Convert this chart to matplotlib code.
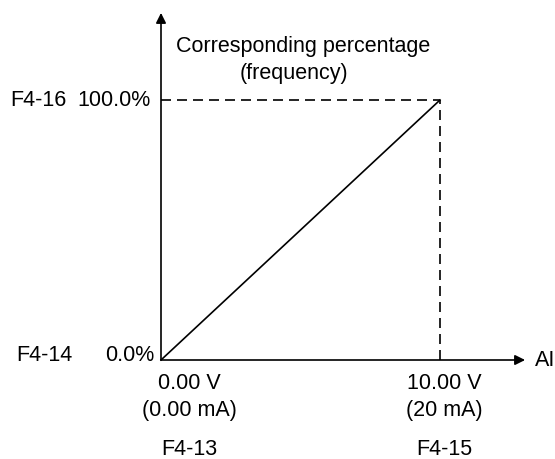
import matplotlib.pyplot as plt

# input range (V) and output percentage
x_vals = [0.0, 10.0]
y_vals = [0.0, 100.0]

x_top_labels = ['0.00 V', '10.00 V']
x_mid_labels = ['(0.00 mA)', '(20 mA)']
x_code_labels = ['F4-13', 'F4-15']
y_pct_labels = ['0.0%', '100.0%']
y_code_labels = ['F4-14', 'F4-16']

plt.rcParams['font.family'] = ['Liberation Sans', 'DejaVu Sans']

fig = plt.figure(figsize=(5.55, 4.59), dpi=100)
# axes box spans the data rectangle 0..10 V, 0..100 %
ax = fig.add_axes([161 / 555, 99 / 459, 279 / 555, 260 / 459])
ax.set_xlim(0, 10)
ax.set_ylim(0, 100)
ax.axis('off')

fs = 15.5
lw = 1.2
dash = (0, (6, 3.6))

# axes with arrows
arrow = dict(arrowstyle='-|>', color='black', lw=lw, mutation_scale=15, shrinkA=0, shrinkB=0)
ax.annotate('', xy=(0, 133.5), xytext=(0, 0), arrowprops=arrow, annotation_clip=False)
ax.annotate('', xy=(13.05, 0), xytext=(0, 0), arrowprops=arrow, annotation_clip=False)

# characteristic line
ax.plot(x_vals, y_vals, color='black', lw=lw, clip_on=False)

# dashed guides
ax.plot([x_vals[0], x_vals[1]], [y_vals[1], y_vals[1]], color='black', lw=lw, ls=dash, clip_on=False)
ax.plot([x_vals[1], x_vals[1]], [y_vals[0], y_vals[1]], color='black', lw=lw, ls=dash, clip_on=False)

ax.text(5.1, 120.5, 'Corresponding percentage', ha='center', va='center', fontsize=fs)
ax.text(4.77, 110.0, '(frequency)', ha='center', va='center', fontsize=fs)
ax.text(13.4, 0, 'AI', ha='left', va='center', fontsize=fs)

# x-axis labels
x_offsets = [1.03, 0.15]
for xv, dx, t1, t2, t3 in zip(x_vals, x_offsets, x_top_labels, x_mid_labels, x_code_labels):
    ax.text(xv + dx, -9.0, t1, ha='center', va='center', fontsize=fs)
    ax.text(xv + dx, -19.5, t2, ha='center', va='center', fontsize=fs)
    ax.text(xv + dx, -34.5, t3, ha='center', va='center', fontsize=fs)

# y-axis labels
y_right = [-0.25, -0.36]
y_left = [-5.2, -5.4]
y_shift = [1.9, -0.2]
for yv, xr, xl, dy, p, c in zip(y_vals, y_right, y_left, y_shift, y_pct_labels, y_code_labels):
    ax.text(xr, yv + dy, p, ha='right', va='center', fontsize=fs)
    ax.text(xl, yv + dy, c, ha='left', va='center', fontsize=fs)

fig.savefig('out.png', dpi=100)
